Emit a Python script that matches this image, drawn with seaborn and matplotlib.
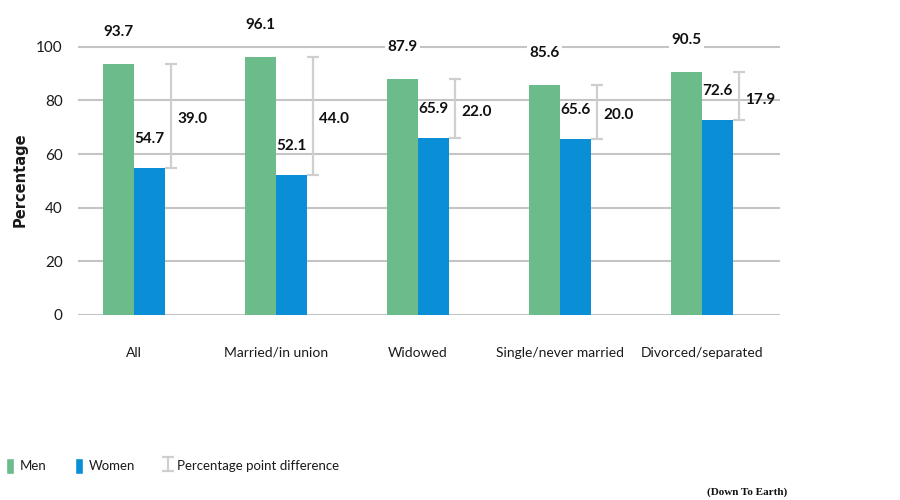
import pandas as pd
import numpy as np
import seaborn as sns
import matplotlib.pyplot as plt
from matplotlib.patches import Patch

# Data
categories = ["All", "Married/in union", "Widowed", "Single/never married", "Divorced/separated"]
men = [93.7, 96.1, 87.9, 85.6, 90.5]
women = [54.7, 52.1, 65.9, 65.6, 72.6]
difference = [39.0, 44.0, 22.0, 20.0, 17.9]

men_color = "#6cbb8a"
women_color = "#0a8fd6"
diff_color = "#cfcfcf"

df = pd.DataFrame({
    "category": categories * 2,
    "group": ["Men"] * len(categories) + ["Women"] * len(categories),
    "value": men + women,
})

sns.set_theme(style="white")
plt.rcParams['font.family'] = ['Lato', 'DejaVu Sans']

fig = plt.figure(figsize=(9, 5), dpi=100)
ax = fig.add_axes([0.0867, 0.37, 0.78, 0.59])

sns.barplot(data=df, x="category", y="value", hue="group", order=categories,
            palette=[men_color, women_color], width=0.44, gap=0, saturation=1,
            linewidth=0, legend=False, ax=ax)

x = np.arange(len(categories))
bw = 0.22

# percentage point difference bars
eb = ax.errorbar(x + 0.26, [(m + w) / 2 for m, w in zip(men, women)],
                 yerr=[(m - w) / 2 for m, w in zip(men, women)],
                 fmt="none", ecolor=diff_color, elinewidth=1.6, capsize=4, capthick=1.6,
                 label="Percentage point difference")

box = dict(facecolor="white", edgecolor="none", pad=1.5)
for i in range(len(categories)):
    ax.text(x[i] - bw / 2, men[i] + 12, f"{men[i]:.1f}", ha="center", va="center",
            fontsize=11, fontweight="bold", color="#111111", bbox=box, zorder=5)
    ax.text(x[i] + bw / 2, women[i] + 11, f"{women[i]:.1f}", ha="center", va="center",
            fontsize=11, fontweight="bold", color="#111111", zorder=5)
    ax.text(x[i] + 0.41, (men[i] + women[i]) / 2 - 1.2, f"{difference[i]:.1f}", ha="center",
            va="center", fontsize=11, fontweight="bold", color="#111111", zorder=5)

ax.set_xlim(-0.394, 4.55)
ax.set_ylim(0, 110)
ax.set_yticks(range(0, 101, 20))
ax.yaxis.grid(True, color="#c4c4c4", linewidth=1.5)
ax.set_axisbelow(True)
for s in ax.spines.values():
    s.set_visible(False)
ax.tick_params(axis="y", length=0, pad=11, labelsize=11, labelcolor="#1a1a1a")
ax.tick_params(axis="x", length=0, pad=23, labelsize=10, labelcolor="#1a1a1a")
ax.set_xlabel("")
ax.set_ylabel("")

fig.text(0.022, 0.64, "Percentage", rotation=90, ha="center", va="center",
         fontsize=10.5, fontweight="bold", family="DejaVu Sans", color="#1a1a1a")

handles = [Patch(facecolor=men_color, label="Men"),
           Patch(facecolor=women_color, label="Women"),
           eb]
fig.legend(handles=handles, labels=["Men", "Women", "Percentage point difference"],
           loc="center left", bbox_to_anchor=(-0.006, 0.068), ncol=3, frameon=False,
           fontsize=9.5, handlelength=0.55, handleheight=1.6, handletextpad=0.45,
           columnspacing=2.2, labelcolor="#1a1a1a")

fig.text(0.83, 0.016, "(Down To Earth)", ha="center", va="center", fontsize=8,
         fontweight="bold", family="Liberation Serif", color="#111111")

plt.savefig("out.png", dpi=100, facecolor="white")
plt.close()
